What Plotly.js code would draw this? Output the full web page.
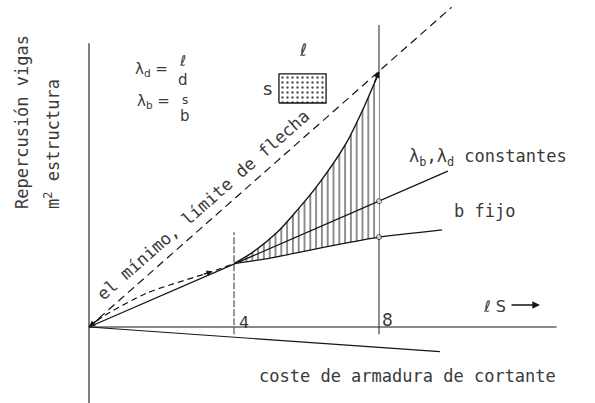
<!DOCTYPE html>
<html>
<head>
<meta charset="utf-8">
<script src="https://cdn.plot.ly/plotly-3.0.1.min.js"></script>
<style>
  html, body { margin: 0; padding: 0; background: #fff; }
  #chart { width: 595px; height: 403px; }
</style>
</head>
<body>
<div id="chart"></div>
<script>
// picture scale: origin of the sketch and pixels per unit
const X0 = 89, Y0 = 327, U = 36.25;
const W = 595, H = 403;

// axes of the sketch
const axisX = [0, 12.9];
const axisY = [0, 0];
const vAxisX = [0, 0];
const vAxisY = [-2.1, 7.83];

// reference spans (4 and 8)
const span4X = [4, 4], span4Y = [-0.2, 2.62];
const span8X = [8, 8], span8Y = [-0.2, 8.33];

// λb, λd constantes (straight line)
const lambdaX = [0, 4, 8, 9.9];
const lambdaY = [0, 1.74, 3.47, 4.3];
const lambdaDot = [0, 0, 5, 0];

// b fijo
const bFijoX = [4, 5, 6, 7, 8, 9.74];
const bFijoY = [1.75, 1.9, 2.1, 2.3, 2.48, 2.68];
const bFijoDot = [0, 0, 0, 0, 5, 0];

// upper curve (grows until it meets the deflection limit)
const curveX = [4, 4.5, 5.2, 5.75, 6.3, 7.1, 7.55, 8];
const curveY = [1.75, 2.05, 2.62, 3.23, 3.9, 5.08, 5.99, 7.03];

// el mínimo, límite de flecha (dashed)
const limitX = [0, 10.0];
const limitY = [0, 8.82];

// lower dashed curve up to span 4
const minX = [0, 0.4, 1.6, 3.4, 4];
const minY = [0, 0.3, 0.94, 1.53, 1.75];

// coste de armadura de cortante
const shearX = [0, 9.68];
const shearY = [0, -0.68];

// little section s x l
const secX = [5.24, 6.54, 6.54, 5.24, 5.24];
const secY = [6.18, 6.18, 6.98, 6.98, 6.18];

const ink = '#151515';
const txt = '#3a3a3a';
const mono = '"DejaVu Sans Mono", "Liberation Mono", monospace';
const sans = '"DejaVu Sans", sans-serif';

// pixel -> paper helpers for the labels
const px = v => v / W;
const py = v => 1 - v / H;

function line(x, y, extra) {
  return Object.assign({
    x: x, y: y, mode: 'lines', type: 'scatter',
    line: { color: ink, width: 1.3 },
    hoverinfo: 'skip', showlegend: false
  }, extra || {});
}

const data = [
  line(axisX, axisY, { line: { color: ink, width: 1.1 } }),
  line(vAxisX, vAxisY, { line: { color: ink, width: 1.1 } }),
  line(span4X, span4Y, { line: { color: '#333', width: 1, dash: '7px,2px' } }),
  line(span8X, span8Y, { line: { color: '#333', width: 1.1 } }),
  // hatch base (b fijo between 4 and 8)
  line(bFijoX.slice(0, 5), bFijoY.slice(0, 5), { line: { width: 0, color: ink } }),
  line(curveX, curveY, {
    line: { color: ink, width: 1.4, shape: 'spline', smoothing: 0.8 },
    fill: 'tonexty', fillcolor: 'white',
    fillpattern: { shape: '|', size: 5.8, solidity: 0.18, fgcolor: '#2a2a2a', bgcolor: 'white', fillmode: 'replace' }
  }),
  line(lambdaX, lambdaY, {
    mode: 'lines+markers',
    marker: { size: lambdaDot, color: 'white', line: { color: ink, width: 1 } }
  }),
  line(bFijoX, bFijoY, {
    mode: 'lines+markers',
    line: { color: ink, width: 1.3, shape: 'spline', smoothing: 0.5 },
    marker: { size: bFijoDot, color: 'white', line: { color: ink, width: 1 } }
  }),
  line(limitX, limitY, { line: { color: ink, width: 1.2, dash: '8px,5px' } }),
  line(minX, minY, { line: { color: ink, width: 1.2, dash: '6px,4px', shape: 'spline', smoothing: 0.6 } }),
  line(shearX, shearY, { line: { color: ink, width: 1.2 } }),
  line(secX, secY, {
    line: { color: ink, width: 1.3 },
    fill: 'toself', fillcolor: 'white',
    fillpattern: { shape: '.', size: 5, solidity: 0.18, fgcolor: '#555', bgcolor: 'white', fillmode: 'replace' }
  })
];

function label(text, x, y, opts) {
  return Object.assign({
    text: text, xref: 'paper', yref: 'paper', x: px(x), y: py(y),
    showarrow: false, xanchor: 'center', yanchor: 'middle',
    font: { family: mono, size: 17, color: txt }
  }, opts || {});
}

function arrow(x, y, ax, ay, size) {
  return {
    text: '', x: x, y: y, xref: 'x', yref: 'y', ax: ax, ay: ay,
    showarrow: true, arrowhead: 2, arrowsize: size || 0.9, arrowwidth: 1.4, arrowcolor: ink
  };
}

const small = (size, extra) => Object.assign({ font: { family: sans, size: size, color: txt } }, extra || {});

const annotations = [
  label('Repercusión vigas', 22, 122, { textangle: -90 }),
  label('m<sup>2</sup> estructura', 52, 144, { textangle: -90 }),
  label('el mínimo, límite de flecha', 203, 205, { textangle: -41.5 }),
  label('λ<sub>b</sub>,λ<sub>d</sub> constantes', 407, 157, { xanchor: 'left' }),
  label('b fijo', 452, 211, { xanchor: 'left' }),
  label('coste de armadura de cortante', 257, 376, { xanchor: 'left' }),
  label('4', 237, 322, small(16, { xanchor: 'left' })),
  label('8', 380, 320, small(17, { xanchor: 'left' })),
  label('λ<sub>d</sub> =', 133, 70, small(15, { xanchor: 'left' })),
  label('<i>ℓ</i>', 182, 61, small(15)),
  label('d', 183, 80, small(15)),
  label('λ<sub>b</sub> =', 135, 102, small(15, { xanchor: 'left' })),
  label('s', 185, 100, small(12)),
  label('b', 185, 116, small(15)),
  label('s', 267, 89, small(18)),
  label('<i>ℓ</i>', 303, 50, small(17)),
  label('<i>ℓ</i> S', 481, 306, small(16, { xanchor: 'left' })),
  arrow((540 - X0) / U, (Y0 - 305) / U, -30, 0, 1.1),
  arrow(0, 0, 12, -10),
  arrow(limitX[0] + 8, 7.05, -5, 12),
  arrow(minX[3], minY[3], -10, 3, 0.8)
];

const layout = {
  width: W, height: H,
  margin: { l: 0, r: 0, t: 0, b: 0 },
  paper_bgcolor: 'white', plot_bgcolor: 'white',
  xaxis: { range: [-X0 / U, (W - X0) / U], visible: false, fixedrange: true },
  yaxis: { range: [-(H - Y0) / U, Y0 / U], visible: false, fixedrange: true },
  showlegend: false,
  annotations: annotations
};

Plotly.newPlot('chart', data, layout, { staticPlot: true });
</script>
</body>
</html>
